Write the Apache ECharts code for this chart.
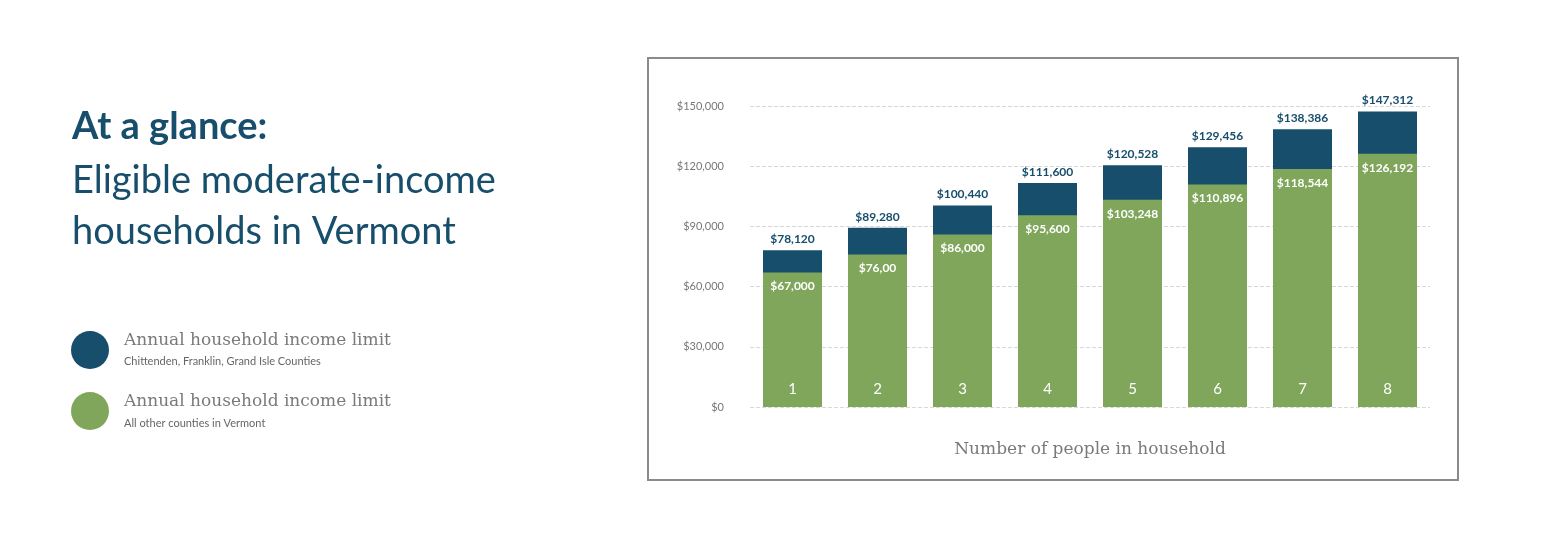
<!DOCTYPE html>
<html>
<head>
<meta charset="utf-8">
<script src="https://cdn.jsdelivr.net/npm/echarts@6/dist/echarts.min.js"></script>
<style>html,body{margin:0;padding:0;background:#fff}#chart1{width:1546px;height:540px}</style>
</head>
<body>
<div id="chart1"></div>
<script>
var categories = ['1', '2', '3', '4', '5', '6', '7', '8'];
var chittendenLimits = [78120, 89280, 100440, 111600, 120528, 129456, 138386, 147312];
var otherLimits = [67000, 76000, 86000, 95600, 103248, 110896, 118544, 126192];
var otherLabels = ['$67,000', '$76,00', '$86,000', '$95,600', '$103,248', '$110,896', '$118,544', '$126,192'];
var yTicks = [0, 30000, 60000, 90000, 120000, 150000];

var dark = '#174e6c';
var green = '#7fa65a';

function money(v) {
    return '$' + v.toLocaleString('en-US');
}

var chart = echarts.init(document.getElementById('chart1'));

var option = {
    animation: false,
    grid: { left: 750, right: 116, top: 106, bottom: 133 },
    graphic: [
        { type: 'rect', shape: { x: 648, y: 58, width: 810, height: 422 }, style: { fill: 'none', stroke: '#8a8a8a', lineWidth: 2 } },
        { type: 'text', left: 72, top: 108, style: { text: 'At a glance:', font: 'bold 38px Lato', fill: dark } },
        { type: 'text', left: 72, top: 162, style: { text: 'Eligible moderate-income', font: '38px Lato', fill: dark } },
        { type: 'text', left: 72, top: 213, style: { text: 'households in Vermont', font: '38px Lato', fill: dark } },
        { type: 'circle', shape: { cx: 90, cy: 350, r: 19 }, style: { fill: dark } },
        { type: 'text', left: 124, top: 332, style: { text: 'Annual household income limit', font: '17px "DejaVu Serif"', fill: '#7a7a7a' } },
        { type: 'text', left: 124, top: 356, style: { text: 'Chittenden, Franklin, Grand Isle Counties', font: '11px Lato', fill: '#666' } },
        { type: 'circle', shape: { cx: 90, cy: 411, r: 19 }, style: { fill: green } },
        { type: 'text', left: 124, top: 393, style: { text: 'Annual household income limit', font: '17px "DejaVu Serif"', fill: '#7a7a7a' } },
        { type: 'text', left: 124, top: 418, style: { text: 'All other counties in Vermont', font: '11px Lato', fill: '#666' } }
    ],
    xAxis: {
        type: 'category',
        data: categories,
        axisLine: { show: false },
        axisTick: { show: false },
        axisLabel: { show: false },
        name: 'Number of people in household',
        nameLocation: 'middle',
        nameGap: 34,
        nameTextStyle: { color: '#7a7a7a', fontSize: 17, fontFamily: 'DejaVu Serif' }
    },
    yAxis: {
        type: 'value',
        min: yTicks[0],
        max: yTicks[yTicks.length - 1],
        interval: 30000,
        axisLine: { show: false },
        axisTick: { show: false },
        splitLine: { lineStyle: { type: 'dashed', color: '#d8d8d8' } },
        axisLabel: { formatter: money, color: '#777', fontSize: 11, fontFamily: 'Lato', margin: 26 }
    },
    series: [
        {
            type: 'bar',
            data: chittendenLimits,
            barWidth: 59,
            itemStyle: { color: dark },
            label: { show: true, position: 'top', color: dark, fontSize: 12, fontWeight: 'bold', fontFamily: 'Lato', formatter: function (p) { return money(p.value); } }
        },
        {
            type: 'bar',
            data: otherLimits,
            barWidth: 59,
            barGap: '-100%',
            itemStyle: { color: green },
            label: { show: true, position: 'insideTop', distance: 8, color: '#fff', fontSize: 12, fontWeight: 'bold', fontFamily: 'Lato', formatter: function (p) { return otherLabels[p.dataIndex]; } }
        },
        {
            type: 'bar',
            data: otherLimits,
            barWidth: 59,
            barGap: '-100%',
            itemStyle: { color: 'transparent' },
            silent: true,
            label: { show: true, position: 'insideBottom', distance: 10, color: '#fff', fontSize: 15, fontFamily: 'Lato', formatter: function (p) { return p.name; } }
        }
    ]
};

chart.setOption(option, true);
</script>
</body>
</html>
